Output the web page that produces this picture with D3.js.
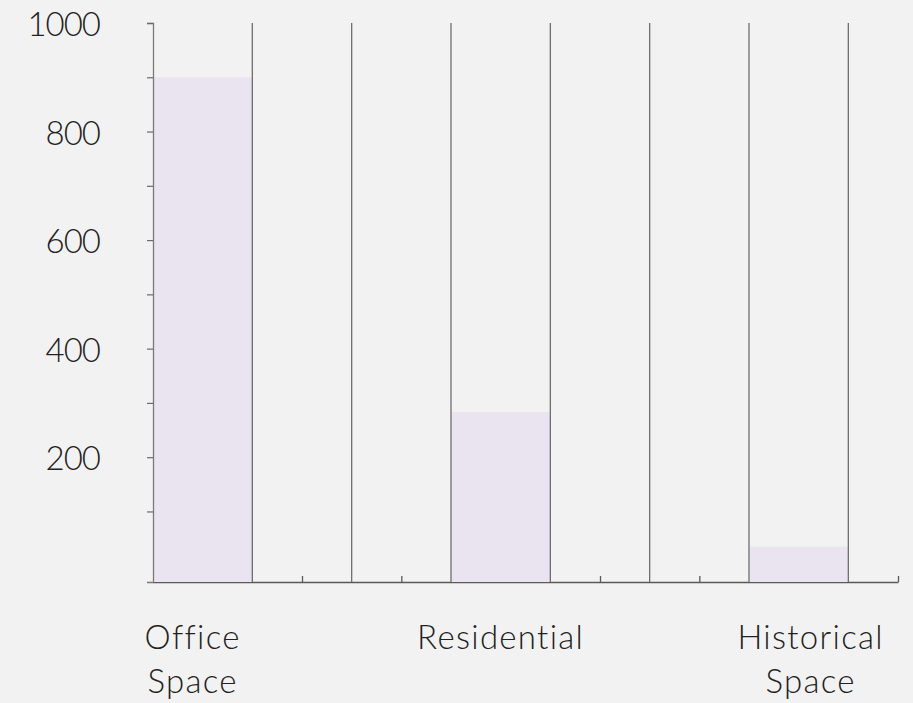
<!DOCTYPE html>
<html>
<head>
<meta charset="utf-8">
<script src="https://cdn.jsdelivr.net/npm/d3@7"></script>
<style>
  body { margin: 0; background: #f2f2f2; }
  svg { display: block; }
</style>
</head>
<body>
<div id="chart"></div>
<script>
// chart data
const categories = ['Office Space', 'Residential', 'Historical Space'];
const values = [900, 283, 35];
const labelLines = [['Office', 'Space'], ['Residential'], ['Historical', 'Space']];
const majorTicks = [200, 400, 600, 800, 1000];
const allTicks = [100, 200, 300, 400, 500, 600, 700, 800, 900, 1000];

drawChart();

function drawChart() {
  const w = 913;
  const h = 703;

  // the plot is split in equal slots, bars every third slot
  const slotCount = 7;
  const slotGap = 3;

  const svg = d3.select('#chart')
    .append('svg')
    .attr('width', w)
    .attr('height', h);

  svg.append('rect')
    .attr('width', w)
    .attr('height', h)
    .attr('fill', '#f2f2f2');

  // scales
  const xScale = d3.scaleLinear()
    .domain([0, slotCount + 0.5])
    .range([153, 898]);

  const yScale = d3.scaleLinear()
    .domain([-30, 1000])
    .range([582, 23]);

  const base = yScale.range()[0];
  const top = yScale.range()[1];

  // x axis (small ticks pointing up, no labels)
  const xAxis = d3.axisBottom(xScale)
    .tickValues(d3.range(0.5, slotCount + 1, 1))
    .tickSize(-6)
    .tickSizeOuter(0)
    .tickFormat('');

  const gx = svg.append('g')
    .attr('transform', 'translate(0,' + base + ')')
    .call(xAxis);
  gx.select('.domain').attr('stroke', '#5a5a5a').attr('stroke-width', 1.6);
  gx.selectAll('.tick line').attr('stroke', '#5a5a5a').attr('stroke-width', 1.3);

  // bars
  svg.selectAll('rect.bar')
    .data(values)
    .enter()
    .append('rect')
    .attr('class', 'bar')
    .attr('x', (d, i) => xScale(i * slotGap))
    .attr('width', (d, i) => xScale(i * slotGap + 1) - xScale(i * slotGap))
    .attr('y', (d) => yScale(d))
    .attr('height', (d) => base - yScale(d))
    .attr('fill', '#e9e4ef');

  // vertical separators between slots
  svg.selectAll('line.sep')
    .data(d3.range(1, slotCount + 1))
    .enter()
    .append('line')
    .attr('class', 'sep')
    .attr('x1', (d) => xScale(d))
    .attr('x2', (d) => xScale(d))
    .attr('y1', top)
    .attr('y2', base)
    .attr('stroke', '#6e6e6e')
    .attr('stroke-width', 1.3);

  // y axis
  const yAxis = d3.axisLeft(yScale)
    .tickValues(allTicks)
    .tickSize(6)
    .tickSizeOuter(6)
    .tickPadding(47)
    .tickFormat((d) => majorTicks.includes(d) ? d : '');

  const gy = svg.append('g')
    .attr('transform', 'translate(' + xScale(0) + ',0)')
    .call(yAxis);
  gy.select('.domain').attr('stroke', '#7a7a7a').attr('stroke-width', 1.3);
  gy.selectAll('.tick line').attr('stroke', '#6a6a6a').attr('stroke-width', 1.2);
  gy.selectAll('.tick text')
    .attr('fill', '#222')
    .attr('dy', '0.38em')
    .style('font-family', 'Lato, "Open Sans", sans-serif')
    .style('font-weight', 300)
    .style('font-size', '33px')
    .style('letter-spacing', '-1px');

  // category labels
  const labelShift = [-10, 0, 12];
  const labels = svg.selectAll('text.cat')
    .data(categories)
    .enter()
    .append('text')
    .attr('class', 'cat')
    .attr('text-anchor', 'middle')
    .attr('fill', '#222')
    .style('font-family', 'Lato, "Open Sans", sans-serif')
    .style('font-weight', 300)
    .style('font-size', '33px')
    .style('letter-spacing', '1.3px');

  labels.each(function (d, i) {
    const cx = xScale(i * slotGap + 0.5) + labelShift[i];
    d3.select(this).selectAll('tspan')
      .data(labelLines[i])
      .enter()
      .append('tspan')
      .attr('x', cx)
      .attr('y', (t, j) => 649 + j * 44)
      .text((t) => t);
  });
}
</script>
</body>
</html>
